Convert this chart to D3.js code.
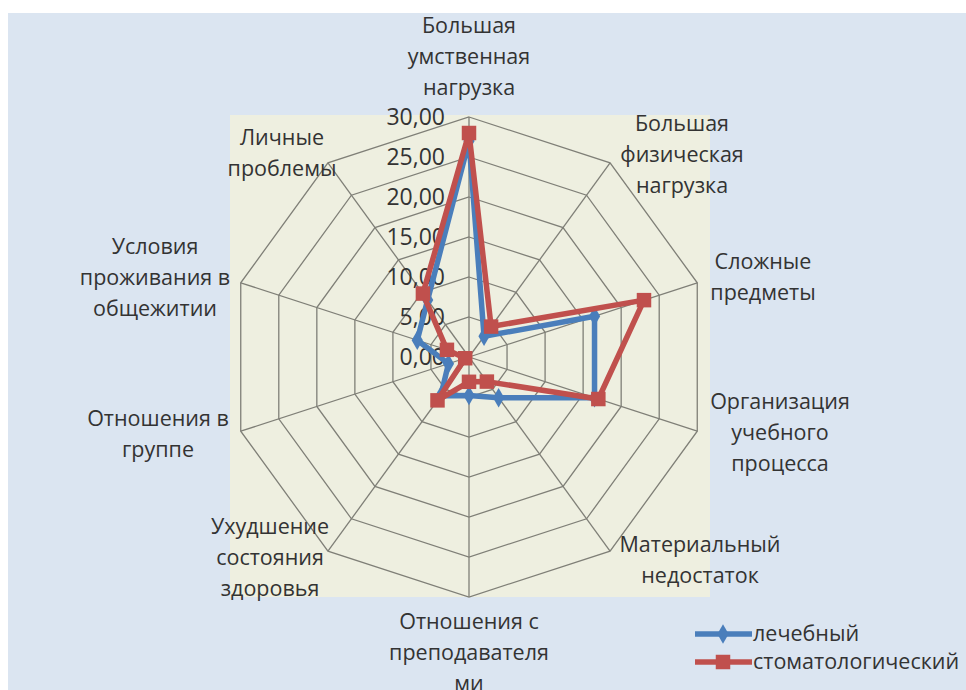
<!DOCTYPE html>
<html>
<head>
<meta charset="utf-8">
<script src="https://cdn.jsdelivr.net/npm/d3@7"></script>
<style>
  body { margin: 0; background: #fff; }
  text { font-family: "Open Sans", "Noto Sans", sans-serif; fill: #333; }
</style>
</head>
<body>
<div id="chart"></div>
<script>
const categories = [
  ["Большая", "умственная", "нагрузка"],
  ["Большая", "физическая", "нагрузка"],
  ["Сложные", "предметы"],
  ["Организация", "учебного", "процесса"],
  ["Материальный", "недостаток"],
  ["Отношения  с", "преподавателя", "ми"],
  ["Ухудшение", "состояния", "здоровья"],
  ["Отношения  в", "группе"],
  ["Условия", "проживания в", "общежитии"],
  ["Личные", "проблемы"]
];
const lechebny = [27, 3.2, 16.5, 16.5, 6.3, 4.8, 6.0, 2.7, 6.8, 8.8];
const stomat = [28, 4.7, 23, 17, 3.8, 3.1, 6.7, 0.5, 2.9, 9.8];
const ticks = [0, 5, 10, 15, 20, 25, 30];
const seriesNames = ["лечебный", "стоматологический"];

// label anchor points (centre of first line)
const labelPos = [
  [469, 27], [682, 125], [763, 263], [780, 403], [700, 546],
  [469, 623], [270, 528], [158, 420], [155, 248], [282, 139]
];

const width = 966, height = 690;
const cx = 469, cy = 357, R = 240;
const fs = 21.5;

const svg = d3.select("#chart").append("svg")
  .attr("width", width).attr("height", height);

svg.append("rect").attr("x", 8).attr("y", 13)
  .attr("width", width - 8).attr("height", height - 13)
  .attr("fill", "#dbe5f1");
svg.append("rect").attr("x", 230).attr("y", 115)
  .attr("width", 480).attr("height", 482)
  .attr("fill", "#eeefe0");

const r = d3.scaleLinear().domain([0, 30]).range([0, R]);
const angle = d3.scaleLinear().domain([0, categories.length]).range([0, 2 * Math.PI]);
const px = (i, v) => cx + r(v) * Math.sin(angle(i));
const py = (i, v) => cy - r(v) * Math.cos(angle(i));

const g = svg.append("g");
const idx = d3.range(categories.length);

// rings
ticks.filter(t => t > 0).forEach(t => {
  g.append("path")
    .attr("d", d3.line()(idx.map(i => [px(i, t), py(i, t)])) + "Z")
    .attr("fill", "none").attr("stroke", "#7f7f77").attr("stroke-width", 1.3);
});
// spokes
idx.forEach(i => {
  g.append("line")
    .attr("x1", cx).attr("y1", cy)
    .attr("x2", px(i, 30)).attr("y2", py(i, 30))
    .attr("stroke", "#7f7f77").attr("stroke-width", 1.3);
});

// tick labels
g.selectAll(".tick").data(ticks).enter().append("text")
  .attr("x", cx - 24).attr("y", t => cy - r(t) + 2)
  .attr("text-anchor", "end").attr("dominant-baseline", "middle")
  .attr("font-size", 23)
  .text(t => d3.format(".2f")(t).replace(".", ","));

// category labels
categories.forEach((lines, i) => {
  const t = svg.append("text").attr("text-anchor", "middle").attr("font-size", fs);
  lines.forEach((s, k) => {
    t.append("tspan").attr("x", labelPos[i][0]).attr("y", labelPos[i][1] + k * 31)
      .attr("dominant-baseline", "middle").text(s);
  });
});

const series = [
  { name: seriesNames[0], values: lechebny, color: "#4a7ebb", shape: d3.symbolDiamond, size: 110 },
  { name: seriesNames[1], values: stomat, color: "#c0504d", shape: d3.symbolSquare, size: 210 }
];

series.forEach(s => {
  const pts = s.values.map((v, i) => [px(i, v), py(i, v)]);
  g.append("path")
    .attr("d", d3.line()(pts) + "Z")
    .attr("fill", "none").attr("stroke", s.color)
    .attr("stroke-width", 5.5).attr("stroke-linejoin", "round");
  g.selectAll(null).data(pts).enter().append("path")
    .attr("transform", d => `translate(${d[0]},${d[1]})`)
    .attr("d", d3.symbol().type(s.shape).size(s.size))
    .attr("fill", s.color);
});

// legend
const leg = svg.append("g");
series.forEach((s, k) => {
  const y = 634 + k * 28;
  leg.append("line").attr("x1", 695).attr("x2", 752).attr("y1", y).attr("y2", y)
    .attr("stroke", s.color).attr("stroke-width", 5.5);
  leg.append("path").attr("transform", `translate(723,${y})`)
    .attr("d", d3.symbol().type(s.shape).size(s.size)).attr("fill", s.color);
  leg.append("text").attr("x", 753).attr("y", y + 1)
    .attr("dominant-baseline", "middle").attr("font-size", fs).text(s.name);
});
</script>
</body>
</html>
